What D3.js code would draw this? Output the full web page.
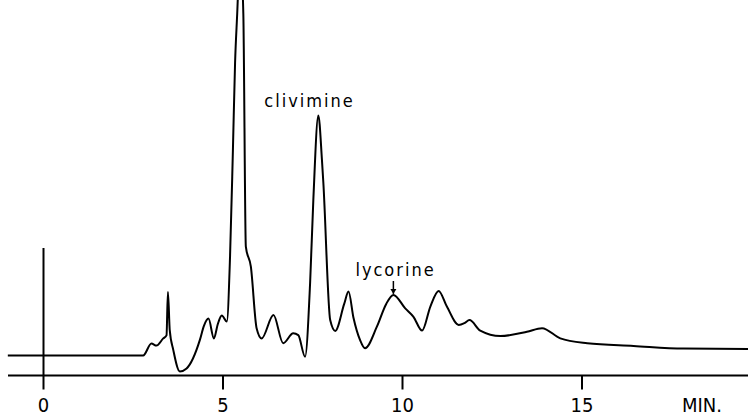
<!DOCTYPE html>
<html>
<head>
<meta charset="utf-8">
<script src="https://cdn.jsdelivr.net/npm/d3@7"></script>
<style>
body { margin:0; background:#fff; }
svg { display:block; }
.lbl { font-family:"DejaVu Sans Condensed","DejaVu Sans",sans-serif; fill:#000; }
</style>
</head>
<body>
<svg id="chart" width="748" height="416"></svg>
<script>
// retention time (min) and detector signal (arbitrary units)
var times = [-0.98, 2.79, 3.02, 3.16, 3.35, 3.44, 3.48, 3.53, 3.63, 3.81, 4.00, 4.37, 4.48, 4.61, 4.76, 4.87, 4.98, 5.12,
	5.21, 5.29, 5.35, 5.41, 5.49, 5.58, 5.65, 5.79, 5.95, 6.09, 6.42, 6.69, 6.97, 7.11, 7.30, 7.44, 7.53, 7.67, 7.77, 7.81,
	8.00, 8.14, 8.39, 8.51, 8.65, 8.83, 8.97, 9.30, 9.56, 9.76, 10.09, 10.32, 10.56, 10.79, 11.02, 11.25, 11.58, 11.74,
	11.88, 12.18, 12.74, 13.48, 13.90, 14.41, 15.16, 16.45, 17.84, 19.66];
var signal = [0, 0, 4.0, 3.3, 5.7, 6.7, 21.2, 8.5, 1.8, -5.3, -4.3, 5.2, 9.8, 12.3, 5.7, 10.5, 13.3, 11.3,
	32.9, 68.5, 97.5, 114, 135, 114, 36.3, 29.6, 9.1, 5.7, 13.5, 4.1, 7.4, 6.8, -0.4, 24.1, 51.8, 80, 65.2, 57.4,
	11.8, 8.2, 17.2, 21.3, 12.5, 5.2, 2.4, 9.6, 17.2, 20.2, 15.7, 12.9, 8.3, 16.3, 21.5, 16.3, 10.2, 10.8,
	11.8, 8.3, 6.5, 7.9, 9.1, 5.7, 4.1, 3.2, 2.3, 2.2];
var tickTimes = [0, 5, 10, 15];
var unitLabel = "MIN.";
var peakNames = ["clivimine", "lycorine"];
var peakTimes = [7.67, 9.76];
var peakSignal = [80, 20.2];

var svg = d3.select("#chart");
var x = d3.scaleLinear().domain([0, 15]).range([43, 581.5]);
var y = d3.scaleLinear().domain([0, 100]).range([355.5, 55.5]);
var axisY = 375.5;

var data = times.map(function(t, i){ return {t:t, s:signal[i]}; });

// time axis
svg.append("line")
	.attr("x1", 8).attr("x2", 748)
	.attr("y1", axisY).attr("y2", axisY)
	.attr("stroke", "#000").attr("stroke-width", 2);

var ax = svg.append("g")
	.attr("transform", "translate(0," + axisY + ")")
	.call(d3.axisBottom(x).tickValues(tickTimes).tickSize(14).tickSizeOuter(0).tickFormat(d3.format("d")));
ax.select(".domain").remove();
ax.selectAll(".tick line").attr("stroke", "#000").attr("stroke-width", 2);
ax.selectAll(".tick text")
	.attr("class", "lbl")
	.attr("y", 36).attr("dy", 0)
	.style("font-size", "20px");
// injection mark at t=0 runs up through the baseline
ax.selectAll(".tick").filter(function(d){ return d === 0; })
	.select("line").attr("y1", 248 - axisY);

svg.append("text")
	.attr("class", "lbl")
	.attr("x", 682).attr("y", 412)
	.style("font-size", "20px")
	.text(unitLabel);

// trace
svg.append("path")
	.datum(data)
	.attr("fill", "none")
	.attr("stroke", "#000")
	.attr("stroke-width", 2)
	.attr("stroke-linejoin", "round")
	.attr("d", d3.line().x(function(d){ return x(d.t); }).y(function(d){ return y(d.s); }).curve(d3.curveMonotoneX));

// peak names
svg.append("text")
	.attr("class", "lbl")
	.attr("x", x(peakTimes[0]) - 54).attr("y", 107)
	.style("font-size", "18px").style("letter-spacing", "2px")
	.text(peakNames[0]);

svg.append("text")
	.attr("class", "lbl")
	.attr("x", x(peakTimes[1]) - 38).attr("y", 276)
	.style("font-size", "18px").style("letter-spacing", "2px")
	.text(peakNames[1]);

// little arrow down onto lycorine
var ax1 = x(peakTimes[1]), ay1 = y(peakSignal[1]);
svg.append("line")
	.attr("x1", ax1).attr("x2", ax1)
	.attr("y1", 281).attr("y2", ay1 - 1)
	.attr("stroke", "#000").attr("stroke-width", 1.5);
svg.append("path")
	.attr("d", "M" + (ax1 - 3) + "," + (ay1 - 6) + "L" + ax1 + "," + (ay1 - 1) + "L" + (ax1 + 3) + "," + (ay1 - 6) + "Z")
	.attr("fill", "#000");
</script>
</body>
</html>
